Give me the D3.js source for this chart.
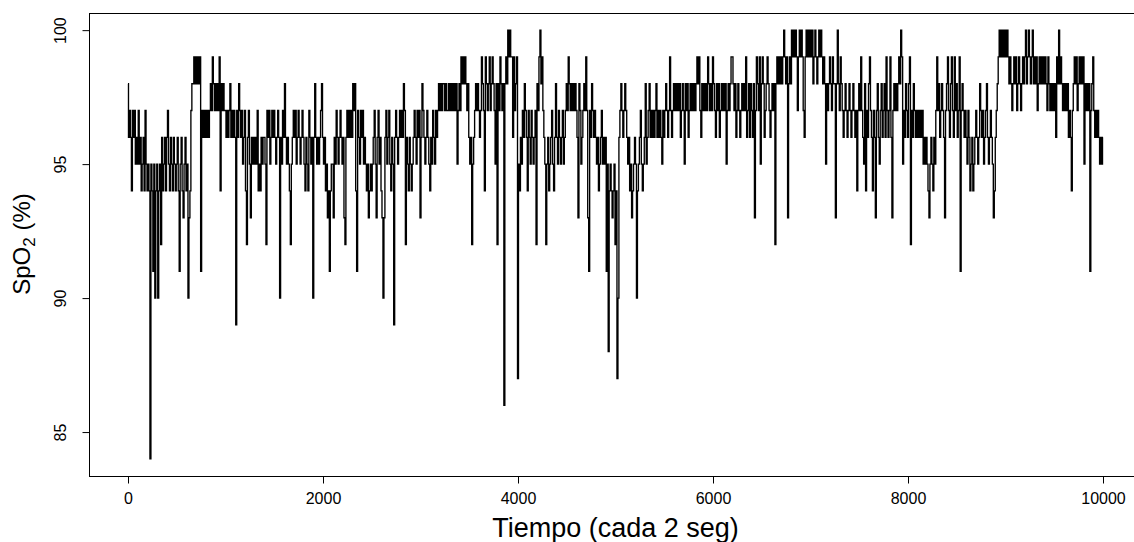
<!DOCTYPE html>
<html>
<head>
<meta charset="utf-8">
<script src="https://cdn.jsdelivr.net/npm/d3@7"></script>
<style>
    body { margin: 0; background: #fff; }
    svg text { font-family: "Liberation Sans", Arial, sans-serif; fill: #000; }
</style>
</head>
<body>
<svg id="chart" width="1134" height="542"></svg>
<script>
// SpO2 readings (%), one value every 10 samples
var sampleStep = 10;

var spo2Part0 = [98,96,97,96,94,97,96,97,95,96, 95,97,95,96,94,95,96,94,97,95,
                 94,95,94,84,95,94,91,95,90,94, 95,90,94,95,92,96,94,95,96,94,
                 96,97,95,94,96,95,94,96,95,94, 95,96,94,91,95,96,94,93,95,96,
                 94,95,90,93,94,97,98,98,99,98, 99,98,99,98,99,91,97,96,97,96,
                 97,96,97,96,97,98,97,99,98,97, 98,97,98,97,99,94,98,97,98,97];
var spo2Part1 = [97,96,97,96,97,98,96,97,96,97, 96,89,97,96,98,97,96,97,95,96,
                 97,94,92,96,97,95,93,96,95,96, 95,96,95,97,94,95,94,96,95,96,
                 96,95,92,97,96,97,95,96,97,96, 97,96,95,96,97,96,90,96,95,97,
                 96,98,96,95,96,95,94,92,95,96, 97,96,97,95,96,97,96,95,96,97,
                 96,95,94,96,95,94,97,96,95,96, 90,96,98,96,95,96,95,96,97,98];
var spo2Part2 = [96,95,96,94,95,93,94,91,94,95, 95,93,96,95,97,96,95,96,97,96,
                 95,96,93,92,96,97,96,97,96,97, 96,98,97,98,94,91,97,96,95,97,
                 96,97,95,96,95,94,95,93,94,95, 94,95,96,97,95,93,96,97,95,96,
                 94,93,90,93,96,97,95,96,97,95, 94,96,95,89,96,97,96,95,96,97,
                 96,97,96,98,97,92,96,95,94,96, 95,94,95,96,97,96,95,97,96,97];
var spo2Part3 = [93,96,98,97,96,95,96,97,96,95, 94,96,95,97,96,95,97,96,97,98,
                 97,98,97,98,98,97,98,97,97,98, 97,98,97,98,97,98,97,98,95,97,
                 98,97,99,98,99,98,99,98,97,98, 96,95,96,92,95,96,97,98,97,98,
                 97,96,97,99,98,97,94,99,98,97, 98,99,97,98,99,98,97,95,98,92,
                 98,97,99,98,97,98,86,98,99,98, 100,99,100,99,99,96,99,97,98,99];
var spo2Part4 = [87,95,94,96,95,97,96,98,97,96, 94,97,96,95,97,96,95,96,97,92,
                 98,97,99,100,98,99,97,96,95,92, 95,96,94,95,96,97,95,94,96,98,
                 96,95,97,96,95,96,97,95,96,97, 98,97,99,98,97,98,97,98,97,98,
                 97,96,93,98,97,95,96,97,98,97, 99,97,93,91,97,96,98,97,96,97,
                 96,95,96,94,95,96,97,95,96,95, 96,91,95,88,94,95,94,93,94,95];
var spo2Part5 = [92,94,87,90,96,97,98,97,96,97, 98,97,96,95,96,94,95,93,94,95,
                 96,95,90,94,95,96,97,95,94,95, 96,98,95,96,97,98,96,97,96,97,
                 96,97,98,96,97,96,97,96,95,97, 96,97,98,97,96,97,99,97,96,97,
                 98,97,98,97,98,97,98,96,97,98, 97,95,98,97,98,96,97,98,97,98,
                 97,98,97,98,99,98,99,97,96,98, 97,98,97,98,97,99,98,97,98,97];
var spo2Part6 = [99,98,97,96,98,97,98,96,97,98, 97,98,97,98,95,97,98,97,98,99,
                 99,98,97,98,96,97,98,97,96,97, 98,97,98,97,99,96,97,98,96,98,
                 97,96,98,93,97,99,98,97,99,95, 98,99,98,96,97,98,99,98,97,96,
                 97,98,97,98,92,98,99,98,99,98, 99,98,99,100,99,98,99,93,98,99,
                 98,100,99,100,99,100,99,97,99,100, 99,100,99,97,96,99,100,99,100,99];
var spo2Part7 = [100,99,100,98,99,100,99,98,99,100, 99,100,99,98,99,98,95,98,97,98,
                 99,98,97,99,98,98,93,98,100,98, 97,99,98,97,96,97,98,97,96,97,
                 98,97,96,97,98,97,96,97,94,97, 98,97,99,97,96,95,98,94,97,96,
                 98,99,97,96,94,97,96,93,97,98, 96,95,97,98,96,97,98,96,99,97,
                 96,97,99,96,93,97,98,97,98,97, 98,99,98,100,99,95,97,96,98,97];
var spo2Part8 = [96,98,99,92,97,96,98,97,96,97, 96,97,96,97,96,97,95,96,95,96,
                 95,94,93,95,96,95,94,96,95,97, 99,97,98,96,97,98,97,96,93,97,
                 98,99,97,96,98,99,97,96,99,97, 98,96,97,99,91,97,98,97,96,97,
                 96,95,97,96,94,95,96,94,95,96, 97,96,95,96,98,97,96,97,95,96,
                 97,98,96,95,96,97,96,95,93,94, 96,97,98,99,100,99,100,99,100,99];
var spo2Part9 = [100,99,100,99,98,99,98,97,98,99, 98,99,97,98,99,98,97,98,99,98,
                 99,100,98,99,100,99,98,99,100,98, 99,98,99,97,98,99,98,99,98,99,
                 98,99,98,97,99,98,97,98,97,98, 97,98,96,99,98,100,98,99,98,97,
                 98,97,98,97,98,96,97,96,94,97, 98,99,98,99,97,98,99,98,99,98,
                 99,95,98,97,98,97,98,91,97,98, 99,97,96,97,96,97,96,95,96,95, 96];

var xTicks = [0, 2000, 4000, 6000, 8000, 10000];
var yTicks = [85, 90, 95, 100];

var xLabel = "Tiempo (cada 2 seg)";

function getData() {
    var values = [].concat(spo2Part0, spo2Part1, spo2Part2, spo2Part3, spo2Part4,
                           spo2Part5, spo2Part6, spo2Part7, spo2Part8, spo2Part9);
    return values.map(function(v, i) {
        return { t: i * sampleStep, spo2: v };
    });
}

function drawChart() {
    var data = getData();
    var svg = d3.select("#chart");

    // plot region, R style (4% padding on both axes)
    var left = 89, right = 1142, top = 13, bottom = 476;

    var x = d3.scaleLinear().domain([-400, 10400]).range([left, right]);
    var y = d3.scaleLinear().domain([83.36, 100.64]).range([bottom, top]);

    // step curve: dense series reads as vertical strokes, like R's type = "l" at 10 pts/pixel
    var line = d3.line()
        .curve(d3.curveStep)
        .x(function(d) { return x(d.t); })
        .y(function(d) { return y(d.spo2); });

    svg.append("path")
        .datum(data)
        .attr("d", line)
        .attr("fill", "none")
        .attr("stroke", "#000")
        .attr("stroke-width", 1.35);

    // box round the plot
    svg.append("rect")
        .attr("x", left + 0.5)
        .attr("y", top + 0.5)
        .attr("width", right - left)
        .attr("height", bottom - top)
        .attr("fill", "none")
        .attr("stroke", "#000")
        .attr("stroke-width", 1);

    // x axis
    var xAxis = svg.append("g")
        .attr("transform", "translate(0," + (bottom + 0.5) + ")")
        .call(d3.axisBottom(x).tickValues(xTicks).tickSize(7).tickPadding(9)
            .tickFormat(d3.format("d")));
    xAxis.select(".domain").attr("d", "M" + x(xTicks[0]) + ",0H" + x(xTicks[xTicks.length - 1]));
    xAxis.selectAll("text").attr("font-size", 16).attr("font-family", null);

    // y axis, labels turned like R's las = 0
    var yAxis = svg.append("g")
        .attr("transform", "translate(" + (left + 0.5) + ",0)")
        .call(d3.axisLeft(y).tickValues(yTicks).tickSize(7).tickFormat(d3.format("d")));
    yAxis.select(".domain").attr("d", "M0," + y(yTicks[0]) + "V" + y(yTicks[yTicks.length - 1]));
    yAxis.selectAll("text")
        .attr("font-size", 16)
        .attr("font-family", null)
        .attr("x", null).attr("dy", null)
        .attr("text-anchor", "middle")
        .attr("transform", "translate(-24,0) rotate(-90)");

    // axis titles
    svg.append("text")
        .attr("x", (left + right) / 2)
        .attr("y", 537)
        .attr("text-anchor", "middle")
        .attr("font-size", 27)
        .text(xLabel);

    var yTitle = svg.append("text")
        .attr("transform", "translate(30," + 244 + ") rotate(-90)")
        .attr("text-anchor", "middle")
        .attr("font-size", 24);
    yTitle.append("tspan").text("SpO");
    yTitle.append("tspan").attr("font-size", 17).attr("dy", 5).text("2");
    yTitle.append("tspan").attr("dy", -5).text(" (%)");
}

window.addEventListener("load", function() {
    drawChart();
});
</script>
</body>
</html>
